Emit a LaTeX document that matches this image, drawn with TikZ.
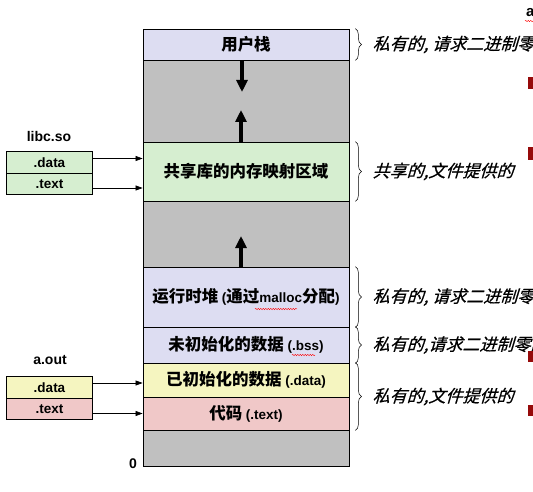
\documentclass[tikz,border=0pt]{standalone}
\usepackage{fontspec}
\setmainfont{Liberation Sans}
\newfontfamily\cjk{Noto Sans CJK SC}[Scale=1.22]
\newfontfamily\cjkit{Noto Sans CJK SC}[Scale=1.26,FakeSlant=0.3,FakeBold=0.6]
\newcommand{\zh}[1]{{\cjk #1}}
\usetikzlibrary{arrows.meta,decorations.pathreplacing,decorations.pathmorphing}
\pgfdeclarelayer{edgelayer}
\pgfdeclarelayer{nodelayer}
\pgfsetlayers{edgelayer,nodelayer,main}
\definecolor{lavender}{RGB}{221,221,242}
\definecolor{mint}{RGB}{214,238,208}
\definecolor{cream}{RGB}{245,245,192}
\definecolor{blush}{RGB}{240,200,200}
\definecolor{hole}{RGB}{192,192,192}
\definecolor{bullet}{RGB}{150,10,10}
\tikzstyle{segment}=[draw=black, line width=0.8pt, minimum width=206pt, inner sep=0pt, font=\fontsize{13.5}{16}\selectfont\bfseries]
\tikzstyle{section}=[draw=black, line width=0.8pt, minimum width=86pt, minimum height=21.5pt, inner sep=0pt, font=\fontsize{13.5}{16}\selectfont\bfseries]
\tikzstyle{title}=[inner sep=0pt, font=\fontsize{14}{16}\selectfont\bfseries]
\tikzstyle{growline}=[line width=3.5pt, -{Triangle[width=11pt,length=12pt]}]
\tikzstyle{edge}=[draw=black, line width=0.6pt, -{Triangle[width=5pt,length=7pt]}]
\tikzstyle{bracket}=[draw=black, line width=0.5pt, decorate, decoration={brace, amplitude=6pt}]
\tikzstyle{note}=[anchor=west, inner sep=0pt, font=\fontsize{13.5}{16}\selectfont\cjkit]
\tikzstyle{squiggle}=[draw=red, line width=0.4pt, decorate, decoration={snake, amplitude=0.7pt, segment length=2.5pt}]

\begin{document}
\begin{tikzpicture}[x=1pt, y=-1pt]
	\clip (0,0) rectangle (533,492);
	\begin{pgfonlayer}{nodelayer}
		% address space, top to bottom
		\node [style=segment, fill=lavender, minimum height=31pt] (stack) at (246, 44.5) {\zh{用户栈}};
		\node [style=segment, fill=hole, minimum height=82pt] (gapA) at (246, 101) {};
		\node [style=segment, fill=mint, minimum height=59pt] (shlib) at (246, 171.5) {\zh{共享库的内存映射区域}};
		\node [style=segment, fill=hole, minimum height=66pt] (gapB) at (246, 234) {};
		\node [style=segment, fill=lavender, minimum height=60pt] (heap) at (246, 297) {\zh{运行时堆} (\zh{通过}malloc\zh{分配})};
		\node [style=segment, fill=lavender, minimum height=36pt] (bss) at (246, 345) {\zh{未初始化的数据} (.bss)};
		\node [style=segment, fill=cream, minimum height=34pt] (data) at (246, 380) {\zh{已初始化的数据} (.data)};
		\node [style=segment, fill=blush, minimum height=33pt] (text) at (246, 413.5) {\zh{代码} (.text)};
		\node [style=segment, fill=hole, minimum height=36pt] (gapC) at (246, 448) {};
		\node [style=title] (zero) at (133, 464) {0};

		% object files
		\node [style=title] (libc) at (49, 136) {libc.so};
		\node [style=section, fill=mint] (ldata) at (49.5, 162.5) {.data};
		\node [style=section, fill=mint] (ltext) at (49.5, 184) {.text};
		\node [style=title] (aout) at (50, 360) {a.out};
		\node [style=section, fill=cream] (adata) at (49.5, 387.5) {.data};
		\node [style=section, fill=blush] (atext) at (49.5, 409) {.text};

		% notes
		\node [style=note] (n1) at ([xshift=23pt]stack.east) {私有的, 请求二进制零的};
		\node [style=note] (n2) at ([xshift=23pt]shlib.east) {共享的,文件提供的};
		\node [style=note] (n3) at ([xshift=23pt]heap.east) {私有的, 请求二进制零的};
		\node [style=note] (n4) at ([xshift=23pt]bss.east) {私有的,请求二进制零的};
		\node [style=note] (n5) at ([xshift=23pt]text.north east) {私有的,文件提供的};
		\node [style=title, anchor=west, font=\fontsize{15}{16}\selectfont\bfseries] (cut) at (526, 13) {a};
	\end{pgfonlayer}
	\begin{pgfonlayer}{edgelayer}
		\draw [style=edge] ([yshift=4pt]ldata.east) to ([yshift=4pt]ldata.east -| shlib.west);
		\draw [style=edge] ([yshift=-4pt]ltext.east) to ([yshift=-4pt]ltext.east -| shlib.west);
		\draw [style=edge] ([yshift=4.5pt]adata.east) to ([yshift=4.5pt]adata.east -| data.west);
		\draw [style=edge] ([yshift=-4.5pt]atext.east) to ([yshift=-4.5pt]atext.east -| text.west);
	\end{pgfonlayer}
	% growth of stack, mappings and heap
	\coordinate (tipA) at (242, 92);
	\coordinate (tipB) at (241, 110);
	\coordinate (tipC) at (241, 236);
	\draw [style=growline] (stack.south -| tipA) to (tipA);
	\draw [style=growline] (shlib.north -| tipB) to (tipB);
	\draw [style=growline] (heap.north -| tipC) to (tipC);
	% braces
	\draw [style=bracket] ([xshift=6pt]stack.north east) to ([xshift=6pt]stack.south east);
	\draw [style=bracket] ([xshift=6pt]shlib.north east) to ([xshift=6pt]shlib.south east);
	\draw [style=bracket] ([xshift=6pt]heap.north east) to ([xshift=6pt]heap.south east);
	\draw [style=bracket] ([xshift=6pt]bss.north east) to ([xshift=6pt]bss.south east);
	\draw [style=bracket] ([xshift=6pt]data.north east) to ([xshift=6pt]text.south east);
	% slide bullets cut at the edge
	\fill [bullet] (528, 77) rectangle (540, 89);
	\fill [bullet] (528, 147) rectangle (540, 160);
	\fill [bullet] (528, 351) rectangle (540, 362);
	\fill [bullet] (528, 405) rectangle (540, 416);
	% spelling marks
	\draw [style=squiggle] (255, 309) to (297, 309);
	\draw [style=squiggle] (292, 355) to (315, 355);
	\draw [style=squiggle] (525, 21) to (533, 21);
\end{tikzpicture}
\end{document}
